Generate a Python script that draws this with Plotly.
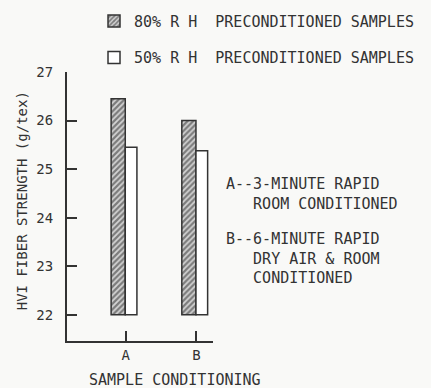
import plotly.graph_objects as go

categories = ["A", "B"]
rh80_values = [26.45, 26.0]
rh50_values = [25.45, 25.38]
series_names = ["80% R H  PRECONDITIONED SAMPLES", "50% R H  PRECONDITIONED SAMPLES"]
y_ticks = [22, 23, 24, 25, 26, 27]
base_value = 22

INK = "#333333"
FONT = "DejaVu Sans Mono"

fig = go.Figure()
fig.add_trace(go.Bar(
    x=categories, y=[v - base_value for v in rh80_values], base=base_value,
    name=series_names[0], offset=-0.207, width=0.2,
    marker=dict(color="#ffffff", line=dict(color=INK, width=1.5),
                pattern=dict(shape="/", fgcolor="#222222", bgcolor="#d4d4d4", size=4, solidity=0.55)),
    legendgroup="g1",
))
fig.add_trace(go.Bar(
    x=categories, y=[v - base_value for v in rh50_values], base=base_value,
    name=series_names[1], offset=-0.007, width=0.165,
    marker=dict(color="#ffffff", line=dict(color=INK, width=1.5)),
    legendgroup="g2",
))

fig.update_layout(
    width=431, height=388,
    margin=dict(l=67, r=218, t=72, b=47, autoexpand=False),
    paper_bgcolor="#f9f9f7", plot_bgcolor="#f9f9f7",
    barmode="overlay",
    font=dict(family=FONT, color=INK, size=14),
    showlegend=True,
    legend=dict(x=0.185, y=1.25, xanchor="left", yanchor="top",
                font=dict(family=FONT, size=15, color=INK),
                bgcolor="rgba(0,0,0,0)", tracegroupgap=14, traceorder="grouped"),
    xaxis=dict(range=[-0.831, 1.234], showline=True, linecolor=INK, linewidth=2,
               ticks="inside", ticklen=10, tickwidth=1.5, tickcolor=INK,
               showgrid=False, zeroline=False, ticklabelstandoff=0,
               tickfont=dict(size=14)),
    yaxis=dict(range=[21.46, 27.0], showline=True, linecolor=INK, linewidth=2,
               ticks="inside", ticklen=10, tickwidth=1.5, tickcolor=INK,
               tickvals=y_ticks, showgrid=False, zeroline=False,
               ticklabelstandoff=9, tickfont=dict(size=14)),
    annotations=[
        dict(text="HVI FIBER STRENGTH (g/tex)", textangle=-90, xref="paper", yref="paper",
             x=-0.307, y=0.52, showarrow=False, font=dict(size=14), xanchor="center", yanchor="middle"),
        dict(text="SAMPLE CONDITIONING", xref="paper", yref="paper",
             x=0.739, y=-0.146, showarrow=False, font=dict(size=15), xanchor="center", yanchor="middle"),
        dict(text="A--3-MINUTE RAPID<br>\u00a0\u00a0\u00a0ROOM CONDITIONED", align="left",
             xref="paper", yref="paper", x=1.078, y=0.546, showarrow=False,
             font=dict(size=15), xanchor="left", yanchor="middle"),
        dict(text="B--6-MINUTE RAPID<br>\u00a0\u00a0\u00a0DRY AIR & ROOM<br>\u00a0\u00a0\u00a0CONDITIONED", align="left",
             xref="paper", yref="paper", x=1.078, y=0.306, showarrow=False,
             font=dict(size=15), xanchor="left", yanchor="middle"),
    ],
)

fig.write_html("out.html", config={"displayModeBar": False},
               post_script="document.body.style.margin='0';")
